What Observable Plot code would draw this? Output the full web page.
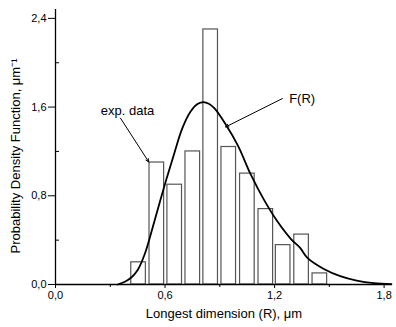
<!DOCTYPE html>
<html>
<head>
<meta charset="utf-8">
<script src="https://cdn.jsdelivr.net/npm/d3@7"></script>
<script src="https://cdn.jsdelivr.net/npm/@observablehq/plot@0.6"></script>
<style>
  html, body { margin: 0; padding: 0; background: #fff; }
  #chart svg { display: block; }
</style>
</head>
<body>
<div id="chart"></div>
<script>
// Histogram bins (experimental data)
const binCenters = [0.455, 0.555, 0.653, 0.752, 0.850, 0.949, 1.051, 1.152, 1.247, 1.348, 1.448];
const binHeights = [0.20, 1.10, 0.90, 1.20, 2.30, 1.24, 1.00, 0.68, 0.355, 0.45, 0.10];
const binWidth = 0.08;

// Fitted curve F(R)
const curveR = [0.34, 0.38, 0.42, 0.45, 0.49, 0.54, 0.595, 0.65, 0.695, 0.74, 0.78, 0.81, 0.84, 0.87, 0.93, 1.00, 1.07, 1.14, 1.215, 1.29, 1.34, 1.38, 1.47, 1.56, 1.65, 1.745, 1.84];
const curveF = [0.0, 0.025, 0.07, 0.13, 0.28, 0.56, 0.88, 1.18, 1.41, 1.56, 1.63, 1.645, 1.63, 1.59, 1.45, 1.25, 0.99, 0.77, 0.57, 0.41, 0.33, 0.24, 0.14, 0.075, 0.035, 0.012, 0.003];

// Ticks
const xTicks = [0, 0.6, 1.2, 1.8];
const xMinor = [0.3, 0.9, 1.5];
const yTicks = [0, 0.8, 1.6, 2.4];
const yMinor = [0.4, 1.2, 2.0];

// Axis titles
const xTitle = ["Longest dimension (R), μm"];
const yTitle = ["Probability Density Function, μm⁻¹"];

// Annotations
const annLabels = ["exp. data", "F(R)"];
const annTextX = [0.395, 1.351];
const annTextY = [1.57, 1.67];
const annFromX = [0.356, 1.243];
const annFromY = [1.50, 1.677];
const annToX = [0.511, 0.932];
const annToY = [1.105, 1.421];

const bins = binCenters.map((c, i) => ({x1: c - binWidth / 2, x2: c + binWidth / 2, h: binHeights[i]}));
const curve = curveR.map((r, i) => ({r, f: curveF[i]}));
const anns = annLabels.map((t, i) => ({t, tx: annTextX[i], ty: annTextY[i], x1: annFromX[i], y1: annFromY[i], x2: annToX[i], y2: annToY[i]}));

const fmt = d => d.toFixed(1).replace(".", ",");

const chart = Plot.plot({
  width: 396,
  height: 327,
  marginLeft: 55,
  marginRight: 4,
  marginTop: 9,
  marginBottom: 43,
  style: {fontFamily: "'Liberation Sans', Arial, sans-serif", fontSize: "11px", color: "#000", background: "#fff"},
  x: {domain: [0, 1.846]},
  y: {domain: [0, 2.48]},
  marks: [
    Plot.rect(bins, {x1: "x1", x2: "x2", y1: 0, y2: "h", fill: "white", stroke: "#555", strokeWidth: 1.2}),
    Plot.line(curve, {x: "r", y: "f", curve: "catmull-rom", stroke: "#000", strokeWidth: 1.8}),
    Plot.ruleX([0], {stroke: "#000", strokeWidth: 1.3}),
    Plot.ruleY([0], {stroke: "#000", strokeWidth: 1.3}),
    Plot.axisX({ticks: xTicks, tickFormat: fmt, tickSize: 4, tickPadding: 3, fontSize: 11, label: null}),
    Plot.axisX({ticks: xMinor, tickFormat: () => "", tickSize: 3, label: null}),
    Plot.axisY({ticks: yTicks, tickFormat: fmt, tickSize: 7, tickPadding: 2, fontSize: 11, label: null}),
    Plot.axisY({ticks: yMinor, tickFormat: () => "", tickSize: -4, label: null}),
    Plot.text(xTitle, {frameAnchor: "bottom", dy: 29, text: d => d, fontSize: 13, lineAnchor: "middle", fill: "#000"}),
    Plot.text(yTitle, {frameAnchor: "left", dx: -40, dy: 9, rotate: -90, text: d => d, fontSize: 13, textAnchor: "middle", lineAnchor: "middle", fill: "#000"}),
    Plot.arrow(anns, {x1: "x1", y1: "y1", x2: "x2", y2: "y2", stroke: "#000", strokeWidth: 1, headLength: 5, headAngle: 50}),
    Plot.text(anns, {x: "tx", y: "ty", text: "t", fontSize: 13, fill: "#000"})
  ]
});
document.getElementById("chart").appendChild(chart);
</script>
</body>
</html>
